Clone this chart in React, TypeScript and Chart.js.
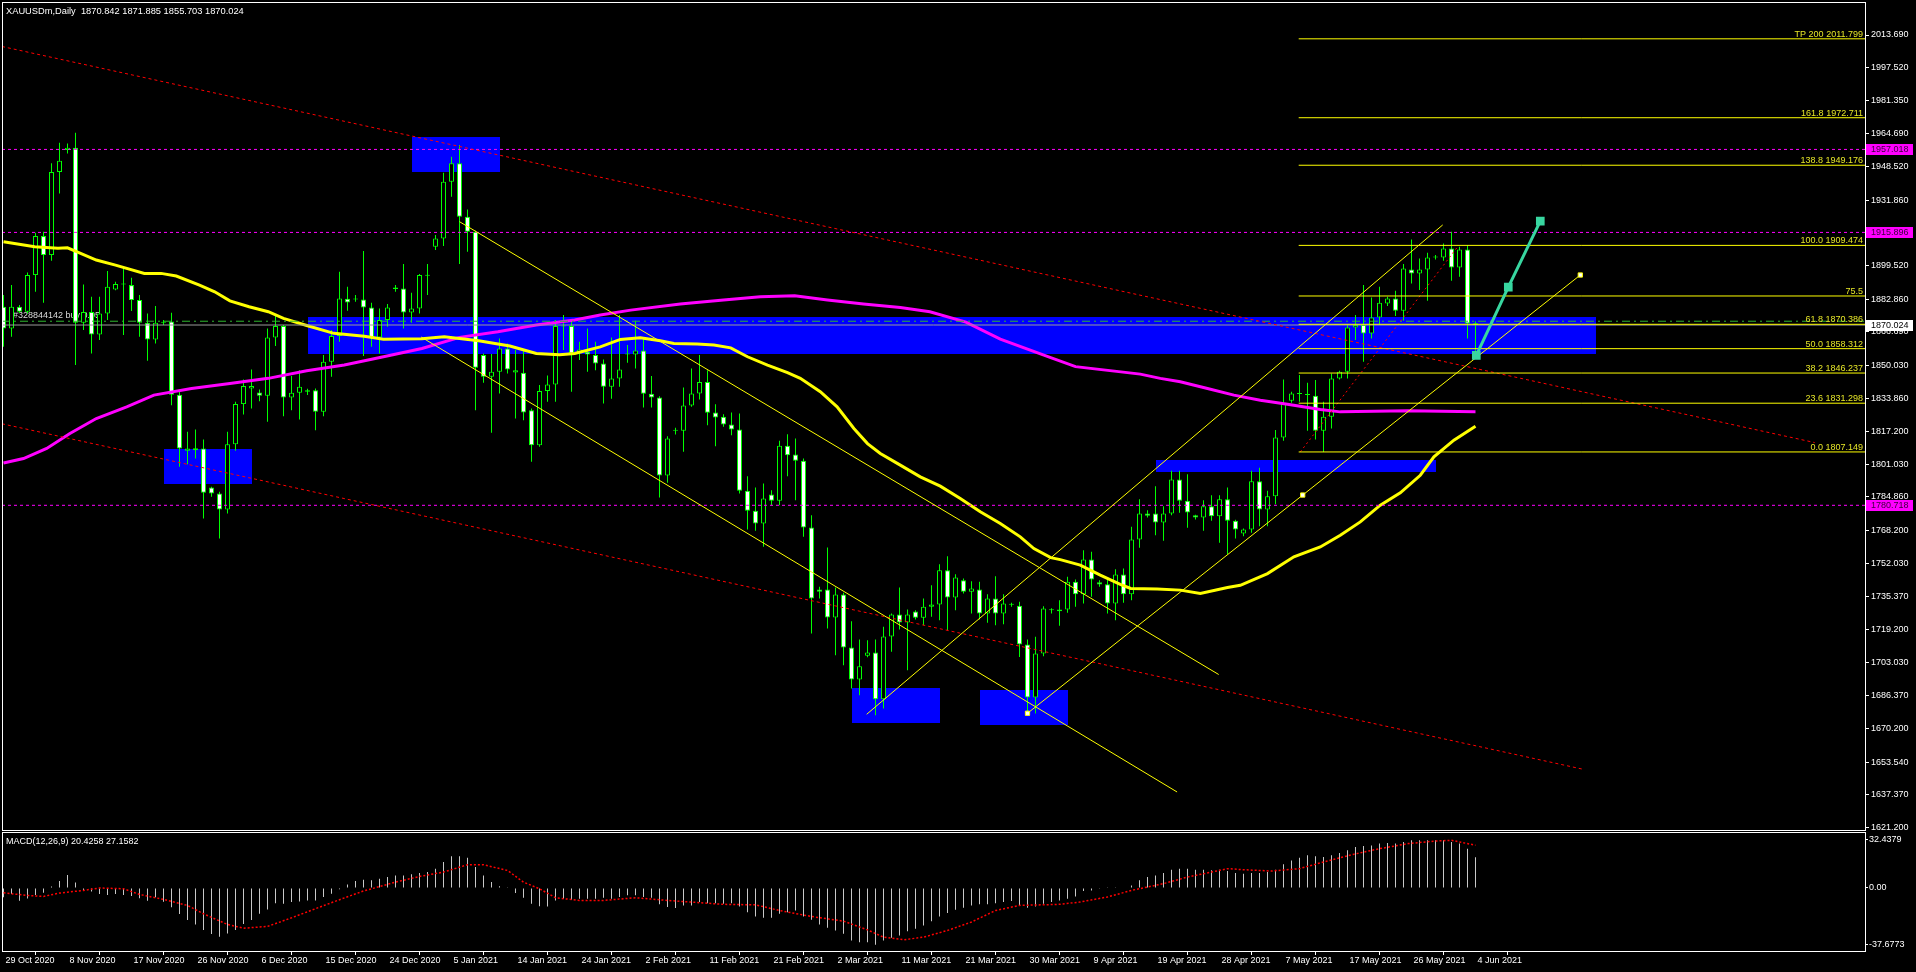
import React, { useEffect, useRef } from "react";
import { Chart, registerables } from "chart.js";

Chart.register(...registerables);

const FONT_FAMILY = '"Liberation Sans", Arial, sans-serif';

// ---------------- data ----------------
const titleText = "XAUUSDm,Daily  1870.842 1871.885 1855.703 1870.024";
const macdTitle = "MACD(12,26,9) 20.4258 27.1582";

const dateLabels = [
  "29 Oct 2020", "8 Nov 2020", "17 Nov 2020", "26 Nov 2020", "6 Dec 2020", "15 Dec 2020",
  "24 Dec 2020", "5 Jan 2021", "14 Jan 2021", "24 Jan 2021", "2 Feb 2021", "11 Feb 2021",
  "21 Feb 2021", "2 Mar 2021", "11 Mar 2021", "21 Mar 2021", "30 Mar 2021", "9 Apr 2021",
  "19 Apr 2021", "28 Apr 2021", "7 May 2021", "17 May 2021", "26 May 2021", "4 Jun 2021",
];
const dateTickIdx = [0, 8, 16, 24, 32, 40, 48, 56, 64, 72, 80, 88, 96, 104, 112, 120, 128, 136, 144, 152, 160, 168, 176, 184];

const opens = [
  1879.07, 1868.33, 1879.07, 1876.59, 1894.76, 1914.09, 1904.67, 1945.8, 1956.7, 1957.86,
  1871.14, 1876.43, 1865.36, 1875.76, 1887.66, 1890.14, 1889.8, 1882.37, 1871.14, 1862.88,
  1871.14, 1871.8, 1835.46, 1807.71, 1808.0, 1808.87, 1789.54, 1786.57, 1778.64, 1811.01,
  1830.84, 1838.6, 1836.62, 1834.97, 1863.87, 1869.49, 1834.14, 1836.45, 1836.95, 1837.77,
  1827.04, 1851.81, 1864.53, 1883.03, 1882.7, 1882.7, 1878.74, 1863.87, 1872.46, 1887.82,
  1888.15, 1876.26, 1878.24, 1894.43, 1908.8, 1912.93, 1941.01, 1950.1, 1923.67, 1916.23,
  1855.12, 1844.38, 1846.86, 1858.42, 1846.53, 1846.36, 1827.86, 1810.52, 1837.28, 1840.58,
  1869.3, 1869.49, 1855.94, 1856.77, 1855.12, 1850.99, 1839.42, 1843.55, 1855.45, 1855.45,
  1857.43, 1835.95, 1834.14, 1795.48, 1817.62, 1817.62, 1830.17, 1836.12, 1841.74, 1826.7,
  1824.56, 1820.76, 1818.28, 1787.89, 1777.98, 1771.7, 1786.07, 1782.93, 1810.19, 1805.89,
  1802.75, 1769.72, 1738.99, 1738.99, 1725.12, 1736.52, 1710.25, 1694.4, 1706.13, 1707.78,
  1684.65, 1715.71, 1726.61, 1722.64, 1728.09, 1724.96, 1730.41, 1731.56, 1748.58, 1735.03,
  1743.62, 1737.84, 1739.0, 1727.11, 1734.54, 1727.11, 1731.4, 1730.9, 1711.74, 1685.48,
  1707.28, 1728.76, 1728.26, 1729.09, 1742.8, 1736.68, 1753.86, 1742.63, 1741.64, 1732.06,
  1746.43, 1736.68, 1763.77, 1776.66, 1776.66, 1772.2, 1776.66, 1793.51, 1782.94, 1775.83,
  1774.68, 1780.29, 1775.34, 1783.76, 1773.03, 1766.75, 1768.73, 1792.68, 1778.64, 1785.25,
  1814.32, 1832.49, 1835.8, 1835.3, 1834.97, 1817.63, 1824.56, 1843.56, 1846.86, 1868.83,
  1869.99, 1865.86, 1873.79, 1880.7, 1883.2, 1877.09, 1897.57, 1895.59, 1897.57, 1903.52,
  1903.52, 1907.98, 1898.56, 1907.48, 1870.842,
];
const highs = [
  1884.85, 1889.81, 1880.0, 1896.08, 1915.74, 1916.23, 1950.1, 1960.34, 1960.0, 1965.29,
  1890.14, 1884.02, 1884.02, 1896.74, 1891.46, 1898.06, 1893.44, 1884.85, 1875.76, 1879.4,
  1872.46, 1876.09, 1837.77, 1817.13, 1818.28, 1813.33, 1789.87, 1787.4, 1817.13, 1831.99,
  1843.06, 1848.01, 1838.1, 1868.33, 1874.94, 1869.99, 1844.71, 1847.68, 1838.43, 1838.6,
  1855.12, 1867.51, 1896.41, 1888.98, 1884.85, 1906.65, 1881.05, 1878.24, 1880.39, 1889.81,
  1900.21, 1886.01, 1895.26, 1900.21, 1914.58, 1945.47, 1953.4, 1959.18, 1927.3, 1916.73,
  1855.94, 1855.61, 1863.38, 1860.9, 1857.59, 1857.59, 1828.69, 1840.25, 1845.04, 1872.46,
  1874.94, 1872.46, 1861.72, 1868.33, 1861.72, 1852.97, 1863.87, 1874.94, 1860.07, 1872.13,
  1863.37, 1844.71, 1834.8, 1814.98, 1819.11, 1839.09, 1848.51, 1855.12, 1847.68, 1830.83,
  1825.88, 1826.7, 1826.21, 1795.16, 1789.54, 1791.52, 1788.22, 1812.66, 1815.97, 1813.82,
  1803.91, 1775.83, 1740.31, 1759.81, 1739.98, 1737.34, 1723.3, 1714.22, 1713.89, 1714.22,
  1720.5, 1727.11, 1739.99, 1729.09, 1728.76, 1734.54, 1741.14, 1751.55, 1755.52, 1746.6,
  1744.45, 1743.13, 1742.8, 1736.68, 1745.6, 1736.68, 1732.39, 1732.89, 1714.22, 1715.54,
  1730.74, 1729.75, 1733.71, 1745.27, 1743.95, 1758.49, 1757.66, 1743.62, 1744.94, 1749.07,
  1749.4, 1770.05, 1783.76, 1778.31, 1790.21, 1780.29, 1797.8, 1797.8, 1796.15, 1776.0,
  1783.27, 1785.75, 1785.75, 1789.54, 1773.5, 1769.2, 1797.8, 1799.29, 1787.89, 1817.96,
  1843.06, 1836.95, 1845.21, 1841.41, 1842.73, 1831.99, 1846.04, 1847.36, 1869.99, 1874.94,
  1889.81, 1883.7, 1888.98, 1884.02, 1887.0, 1900.22, 1912.44, 1903.02, 1905.83, 1904.67,
  1910.46, 1916.24, 1908.8, 1909.47, 1871.885,
];
const lows = [
  1859.25, 1864.2, 1876.0, 1875.78, 1886.5, 1881.05, 1901.86, 1935.23, 1955.05, 1850.16,
  1867.51, 1855.94, 1862.55, 1872.46, 1887.3, 1865.03, 1876.92, 1864.2, 1852.31, 1860.9,
  1869.99, 1830.34, 1799.78, 1801.1, 1803.91, 1774.18, 1784.92, 1764.27, 1776.66, 1807.71,
  1825.71, 1828.69, 1832.32, 1822.08, 1859.58, 1824.89, 1827.86, 1823.24, 1835.3, 1817.95,
  1824.89, 1844.38, 1861.72, 1877.09, 1881.55, 1854.62, 1859.25, 1855.94, 1869.16, 1886.5,
  1868.33, 1871.14, 1875.76, 1884.85, 1907.15, 1909.13, 1933.58, 1900.21, 1906.32, 1827.86,
  1841.41, 1816.63, 1836.12, 1846.03, 1823.73, 1822.9, 1802.26, 1809.69, 1831.99, 1831.99,
  1857.59, 1836.95, 1852.64, 1846.86, 1847.68, 1831.16, 1833.48, 1839.42, 1851.32, 1848.51,
  1829.18, 1829.18, 1784.58, 1791.85, 1815.8, 1807.21, 1829.51, 1833.15, 1820.43, 1810.02,
  1819.6, 1815.47, 1786.57, 1768.73, 1768.07, 1760.14, 1780.78, 1780.78, 1795.16, 1783.26,
  1765.09, 1717.19, 1734.53, 1719.67, 1706.45, 1701.5, 1689.94, 1686.63, 1705.5, 1676.73,
  1680.03, 1708.11, 1719.18, 1699.02, 1724.13, 1721.32, 1725.45, 1723.8, 1718.84, 1728.76,
  1737.0, 1727.11, 1724.13, 1722.48, 1721.32, 1721.82, 1730.41, 1705.63, 1676.73, 1677.55,
  1705.96, 1727.11, 1720.99, 1727.44, 1730.41, 1732.06, 1735.36, 1740.31, 1727.11, 1723.8,
  1732.39, 1733.71, 1759.64, 1774.67, 1765.93, 1763.12, 1775.83, 1776.99, 1769.56, 1773.7,
  1768.07, 1773.03, 1762.12, 1756.51, 1764.27, 1765.4, 1767.08, 1770.38, 1770.38, 1781.29,
  1812.67, 1831.5, 1831.99, 1817.63, 1813.33, 1807.15, 1818.78, 1843.06, 1843.56, 1862.55,
  1851.82, 1863.38, 1870.48, 1879.4, 1874.45, 1872.13, 1890.63, 1887.33, 1882.05, 1902.53,
  1901.87, 1891.96, 1893.94, 1863.38, 1855.703,
];
const closes = [
  1868.33, 1879.07, 1876.59, 1894.76, 1914.09, 1904.67, 1945.8, 1951.42, 1957.86, 1871.14,
  1876.43, 1865.36, 1875.76, 1888.98, 1890.3, 1890.14, 1882.37, 1871.14, 1862.88, 1871.14,
  1871.6, 1835.46, 1808.87, 1808.87, 1809.0, 1786.9, 1786.57, 1778.64, 1811.01, 1830.84,
  1839.76, 1839.76, 1834.97, 1863.87, 1869.49, 1834.14, 1836.45, 1839.43, 1837.77, 1827.04,
  1851.81, 1864.53, 1883.2, 1881.22, 1882.7, 1878.74, 1863.87, 1872.46, 1878.74, 1888.65,
  1876.26, 1878.24, 1894.76, 1894.43, 1912.93, 1941.01, 1950.1, 1923.67, 1916.23, 1848.84,
  1844.38, 1846.86, 1858.42, 1848.01, 1847.68, 1826.71, 1810.52, 1837.28, 1840.58, 1869.49,
  1869.6, 1855.94, 1857.93, 1855.45, 1850.99, 1839.42, 1843.55, 1848.01, 1855.45, 1857.43,
  1835.95, 1834.14, 1795.48, 1813.82, 1817.62, 1830.17, 1836.12, 1841.74, 1826.54, 1824.23,
  1820.76, 1818.28, 1787.89, 1777.98, 1771.7, 1784.09, 1782.93, 1810.19, 1805.56, 1802.75,
  1769.72, 1734.53, 1737.84, 1725.12, 1736.52, 1710.25, 1694.4, 1701.0, 1707.78, 1684.65,
  1715.71, 1726.61, 1722.64, 1726.61, 1724.96, 1730.41, 1731.56, 1748.58, 1735.03, 1744.94,
  1737.84, 1739.49, 1727.11, 1734.54, 1727.11, 1732.06, 1731.4, 1711.74, 1685.48, 1707.28,
  1729.58, 1728.76, 1729.09, 1742.8, 1736.68, 1753.86, 1743.95, 1741.47, 1732.06, 1746.43,
  1736.68, 1763.77, 1776.66, 1775.5, 1772.2, 1776.66, 1793.51, 1782.94, 1777.16, 1774.68,
  1780.29, 1775.34, 1783.76, 1773.03, 1768.73, 1768.73, 1792.68, 1778.64, 1785.25, 1814.32,
  1830.84, 1836.13, 1835.8, 1835.3, 1817.63, 1824.56, 1843.56, 1846.86, 1868.83, 1869.99,
  1865.86, 1873.79, 1881.05, 1883.2, 1877.09, 1898.07, 1895.59, 1897.57, 1903.52, 1903.52,
  1907.98, 1898.56, 1907.48, 1870.81, 1870.024,
];

const priceTicks = [
  2013.69, 1997.52, 1981.35, 1964.69, 1948.52, 1931.86, 1915.69, 1899.52, 1882.86, 1866.69,
  1850.03, 1833.86, 1817.2, 1801.03, 1784.86, 1768.2, 1752.03, 1735.37, 1719.2, 1703.03,
  1686.37, 1670.2, 1653.54, 1637.37, 1621.2,
];
const priceAxisMin = 1619.87;
const priceAxisMax = 2030.04;
const barAxisMin = -0.1875;
const barAxisMax = 232.6875;

// moving averages (bar index, price)
const yellowMa = [
  [0, 1911.3], [3.9, 1908.8], [6.8, 1908.0], [8, 1908.3], [9.2, 1906.3], [11.6, 1902.2], [14, 1899.7],
  [17.6, 1895.6], [19.7, 1895.6], [21.6, 1894.3], [24.5, 1889.8], [26.4, 1886.5], [28.3, 1882.0],
  [30.7, 1879.1], [33.1, 1876.6], [35, 1873.3], [37.9, 1869.8], [41.3, 1865.9], [45.1, 1864.5],
  [47.5, 1863.0], [52.3, 1863.2], [55.1, 1864.2], [59.4, 1862.2], [63.3, 1859.6], [66.6, 1855.9],
  [69.5, 1855.3], [71.4, 1855.9], [74.6, 1859.2], [77.1, 1862.9], [79.6, 1863.7], [82.1, 1862.2],
  [83.8, 1860.9], [86.7, 1860.6], [88.8, 1860.1], [90.9, 1858.7], [93, 1854.3], [95.5, 1850.2],
  [98, 1846.4], [99.6, 1843.6], [102.1, 1837.0], [104.2, 1829.5], [106.3, 1818.8], [108, 1811.3],
  [109.6, 1806.4], [112.1, 1800.6], [114.6, 1794.8], [117.1, 1790.2], [119.6, 1784.1], [122.1, 1777.5],
  [124.6, 1771.7], [127.1, 1765.1], [128.8, 1759.3], [130.9, 1754.8], [132.1, 1753.8], [134.6, 1751.1],
  [137.1, 1746.1], [139.6, 1741.6], [140.9, 1739.5], [144.2, 1739.2], [147.1, 1738.7], [149.6, 1737.0],
  [153, 1740.0], [154.6, 1741.1], [158, 1746.9], [161.3, 1755.2], [164.6, 1760.1], [167.1, 1765.9],
  [169.6, 1772.5], [172.1, 1780.8], [174.6, 1786.9], [177.1, 1795.6], [178.8, 1804.7], [181.3, 1813.0],
  [184, 1819.9],
];
const magentaMa = [
  [0, 1801.7], [2.5, 1803.9], [5.4, 1808.9], [8.3, 1816.3], [11.6, 1823.7], [15.4, 1829.5], [18.8, 1835.3],
  [23.5, 1838.6], [28.3, 1841.1], [33.1, 1843.6], [37.9, 1847.4], [42.6, 1850.2], [47.5, 1854.3],
  [52.3, 1858.4], [57, 1863.9], [61.8, 1866.7], [66.6, 1870.0], [71.4, 1872.5], [74.6, 1875.0],
  [78.4, 1877.4], [84.6, 1880.4], [90, 1882.4], [94.6, 1884.0], [98.9, 1884.5], [103, 1882.4],
  [107.5, 1880.4], [112.1, 1878.7], [115.8, 1876.6], [120.3, 1871.5], [124.6, 1863.0], [130.9, 1853.9],
  [134, 1849.4], [142.1, 1845.7], [144.6, 1843.6], [147.1, 1841.9], [150.5, 1838.6], [153.8, 1835.3],
  [157.1, 1832.8], [160.5, 1830.8], [164.6, 1828.2], [167.1, 1827.0], [175.5, 1827.5], [184, 1827.0],
];

// supply / demand zones
const zoneStartIdx = [51, 20, 38, 106, 122, 144];
const zoneEndIdx = [62, 31, 199, 117, 133, 179];
const zoneTop = [1963.2, 1808.5, 1873.9, 1690.1, 1689.1, 1803.1];
const zoneBottom = [1945.8, 1791.3, 1855.8, 1672.9, 1671.9, 1797.3];

// horizontal levels
const magentaLevels = [1957.018, 1915.896, 1780.718];
const magentaLevelLabels = ["1957.018", "1915.896", "1780.718"];
const bidPrice = 1870.024;
const bidLabel = "1870.024";
const orderPrice = 1871.9;
const orderLabel = "#328844142 buy 0.05";

// fibonacci
const fibLevels = [1807.149, 1831.298, 1846.237, 1858.312, 1870.386, 1884.404, 1909.474, 1949.176, 1972.711, 2011.799];
const fibLabels = ["0.0 1807.149", "23.6 1831.298", "38.2 1846.237", "50.0 1858.312", "61.8 1870.386", "75.5", "100.0 1909.474", "138.8 1949.176", "161.8 1972.711", "TP 200 2011.799"];
const fibStartIdx = 161.9;
const fibBaseLine = [[162.1, 1807.149], [181.9, 1909.474]];

// trend lines (bar index, price)
const redUpperLine = [[-0.19, 2008.0], [226.4, 1811.8]];
const redLowerLine = [[-0.19, 1821.1], [197.4, 1650.0]];
const yellowDownUpper = [[57, 1921.2], [151.9, 1696.9]];
const yellowDownLower = [[52.2, 1864.1], [146.7, 1638.7]];
const yellowUpUpper = [[107.9, 1677.2], [179.9, 1919.6]];
const yellowUpLower = [[128.0, 1677.7], [197.1, 1894.8]];
const anchorPoints = [[128.0, 1677.7], [162.4, 1785.8], [197.1, 1894.8]];
const projectionPath = [[184.1, 1855.0], [188.1, 1888.8], [192.1, 1921.5]];

// MACD
const macdHist = [
  -6.2, -4.0, -8.5, -7.0, -4.7, -3.1, 1.0, 4.7, 8.7, 3.6,
  -1.3, -2.4, -4.0, -4.7, -4.0, -4.7, -5.3, -6.9, -8.5, -6.2,
  -9.1, -12.9, -17.4, -21.4, -24.3, -28.0, -30.7, -32.5, -30.3, -28.0,
  -24.0, -21.4, -17.2, -14.3, -10.1, -10.5, -9.4, -9.0, -8.3, -8.3,
  -6.0, -3.8, -0.9, 2.4, 4.6, 5.5, 5.1, 6.2, 7.3, 8.4,
  8.4, 9.1, 10.0, 10.6, 12.9, 17.3, 21.1, 21.1, 20.2, 14.0,
  8.4, 4.0, 1.1, 0.2, -3.4, -6.5, -10.5, -12.1, -12.3, -8.3,
  -7.2, -7.8, -7.2, -7.2, -7.2, -6.5, -7.2, -6.0, -4.9, -4.9,
  -6.0, -6.5, -10.9, -12.7, -13.4, -11.6, -11.6, -9.4, -10.1, -10.1,
  -10.5, -10.1, -12.3, -16.1, -19.0, -19.9, -19.9, -17.2, -16.1, -15.0,
  -19.0, -21.2, -24.3, -26.5, -28.3, -30.5, -35.0, -36.1, -36.1, -37.9,
  -35.0, -33.2, -31.6, -28.8, -27.2, -25.0, -22.1, -19.0, -16.7, -14.5,
  -13.2, -11.6, -10.9, -10.9, -10.1, -9.4, -8.7, -11.6, -13.2, -12.3,
  -10.5, -9.4, -8.3, -7.2, -5.6, -2.0, -1.6, -0.5, 0.2, 0.2,
  -0.3, 1.7, 5.1, 7.3, 8.4, 10.0, 12.2, 12.9, 12.9, 12.2,
  12.2, 11.8, 12.2, 11.3, 10.0, 9.5, 10.0, 10.0, 10.6, 12.2,
  15.8, 18.4, 20.2, 21.8, 21.1, 20.7, 21.8, 23.3, 25.1, 27.3,
  28.0, 28.4, 29.6, 30.0, 29.6, 30.7, 31.8, 31.8, 31.8, 31.8,
  31.8, 30.7, 29.6, 26.2, 20.43,
];
const macdSignal = [
  [0, -3.2], [3, -5.0], [5, -5.6], [7, -3.4], [10, -1.6], [12, 0], [15, -0.5], [17, -4.3], [20, -7.6],
  [23, -11.6], [25, -17.2], [28, -24.3], [30, -26.8], [33, -25.6], [36, -19.9], [39, -13.8], [42, -7.8],
  [45, -2.0], [49, 3.9], [52, 7.7], [55, 10.6], [58, 15.5], [60, 15.5], [63, 11.7], [65, 3.9], [67, -0.5],
  [69, -6.5], [72, -8.3], [75, -8.3], [79, -6.5], [83, -8.3], [86, -9.4], [90, -10.9], [94, -11.2],
  [97, -15.0], [101, -19.0], [105, -22.1], [108, -27.9], [110, -32.8], [112.5, -34.5], [115, -32.8],
  [118, -28.3], [121, -22.7], [124, -15.0], [127, -11.6], [132, -10.9], [134.5, -9.4], [138, -6.0],
  [141, -1.6], [145, 2.9], [148, 7.3], [151, 10.6], [153, 12.9], [155, 12.2], [158.5, 11.3], [162, 12.9],
  [165, 17.3], [168.7, 22.4], [172, 26.2], [175.6, 29.6], [179, 31.3], [181, 31.8], [184, 28.5],
];
const macdTicks = [32.4379, 0, -37.6773];
const macdTickLabels = ["32.4379", "0.00", "-37.6773"];
const macdAxisMin = -42.0;
const macdAxisMax = 37.33;

// ---------------- styling ----------------
const GREEN = "#00FF00";
const YELLOW = "#FFFF00";
const MAGENTA = "#FF00FF";
const RED = "#FF0000";
const PROJ = "rgb(56, 214, 160)";
const FONT = { family: FONT_FAMILY, size: 9 };

const pts = (pairs: number[][]) => pairs.map(([x, y]) => ({ x, y }));
const hline = (p: number) => [{ x: barAxisMin, y: p }, { x: barAxisMax, y: p }];
const seg = (data: any[], color: string, width: number, dash: number[], order: number) => ({
  type: "line",
  data,
  borderColor: color,
  borderWidth: width,
  borderDash: dash,
  pointRadius: 0,
  fill: false,
  tension: 0,
  order,
});
const zeroPad = (ax: any) => {
  ax.paddingTop = 0;
  ax.paddingBottom = 0;
  ax.paddingLeft = 0;
  ax.paddingRight = 0;
};

const mainDecor = {
  id: "mainDecor",
  beforeDatasetsDraw(chart: any) {
    const { ctx, chartArea: ca } = chart;
    const x = chart.scales.x;
    const y = chart.scales.y;
    ctx.save();
    ctx.beginPath();
    ctx.rect(ca.left, ca.top, ca.right - ca.left, ca.bottom - ca.top);
    ctx.clip();
    ctx.fillStyle = "#0000FF";
    zoneStartIdx.forEach((s, k) => {
      const x1 = Math.round(x.getPixelForValue(s));
      const x2 = Math.round(x.getPixelForValue(zoneEndIdx[k]));
      const y1 = Math.round(y.getPixelForValue(zoneTop[k]));
      const y2 = Math.round(y.getPixelForValue(zoneBottom[k]));
      ctx.fillRect(x1, y1, x2 - x1, y2 - y1);
    });
    ctx.font = `9px ${FONT_FAMILY}`;
    ctx.fillStyle = "#DADADA";
    ctx.textAlign = "left";
    ctx.textBaseline = "middle";
    ctx.fillText(orderLabel, ca.left + 11, y.getPixelForValue(orderPrice) - 6);
    ctx.restore();
  },
  afterDatasetsDraw(chart: any) {
    const { ctx, chartArea: ca } = chart;
    const y = chart.scales.y;
    ctx.save();
    ctx.font = `9px ${FONT_FAMILY}`;
    ctx.fillStyle = "#E6E628";
    ctx.textAlign = "right";
    ctx.textBaseline = "alphabetic";
    fibLevels.forEach((lv, k) => {
      ctx.fillText(fibLabels[k], ca.right - 2, y.getPixelForValue(lv) - 2);
    });
    ctx.font = `9.3px ${FONT_FAMILY}`;
    ctx.fillStyle = "#FFFFFF";
    ctx.textAlign = "left";
    ctx.textBaseline = "middle";
    ctx.fillText(titleText, 6, 11);
    ctx.restore();
  },
  afterDraw(chart: any) {
    const { ctx, chartArea: ca } = chart;
    const y = chart.scales.y;
    ctx.save();
    ctx.font = `9px ${FONT_FAMILY}`;
    ctx.textAlign = "left";
    ctx.textBaseline = "middle";
    const tag = (p: number, label: string, bg: string, fg: string) => {
      const py = Math.round(y.getPixelForValue(p));
      ctx.fillStyle = bg;
      ctx.fillRect(ca.right + 1, py - 5, 47, 11);
      ctx.fillStyle = fg;
      ctx.fillText(label, ca.right + 6, py + 0.5);
    };
    magentaLevels.forEach((p, k) => tag(p, magentaLevelLabels[k], MAGENTA, "#3a003a"));
    tag(bidPrice, bidLabel, "#FFFFFF", "#000000");
    ctx.strokeStyle = "#FFFFFF";
    ctx.lineWidth = 1;
    ctx.strokeRect(ca.left + 0.5, ca.top + 0.5, ca.right - ca.left, ca.bottom - ca.top);
    ctx.restore();
  },
};

const macdDecor = {
  id: "macdDecor",
  afterDraw(chart: any) {
    const { ctx, chartArea: ca } = chart;
    ctx.save();
    ctx.strokeStyle = "#FFFFFF";
    ctx.lineWidth = 1;
    ctx.strokeRect(ca.left + 0.5, ca.top + 0.5, ca.right - ca.left, ca.bottom - ca.top);
    ctx.font = `9px ${FONT_FAMILY}`;
    ctx.fillStyle = "#FFFFFF";
    ctx.textAlign = "left";
    ctx.textBaseline = "middle";
    ctx.fillText(macdTitle, 6, 11);
    ctx.restore();
  },
};

function mainConfig(): any {
  const wicks = lows.map((l, i) => ({ x: i, y: [l, highs[i]] }));
  const bodies = opens.map((o, i) => ({ x: i, y: [Math.min(o, closes[i]), Math.max(o, closes[i])] }));
  const bodyColors = opens.map((o, i) => (closes[i] >= o ? "#000000" : "#FFFFFF"));
  const fibSets = fibLevels.map((lv) =>
    seg([{ x: fibStartIdx, y: lv }, { x: barAxisMax, y: lv }], YELLOW, 1, [], 1)
  );
  return {
    type: "line",
    data: {
      datasets: [
        {
          type: "line",
          data: pts(projectionPath),
          borderColor: PROJ,
          borderWidth: 3,
          pointStyle: "rect",
          pointRadius: 4,
          pointBackgroundColor: PROJ,
          pointBorderColor: PROJ,
          tension: 0,
          order: 0,
        },
        {
          type: "line",
          data: pts(anchorPoints),
          showLine: false,
          pointStyle: "rect",
          pointRadius: 3,
          pointBackgroundColor: "#FFFFFF",
          pointBorderColor: YELLOW,
          pointBorderWidth: 1,
          order: 0,
        },
        seg(pts(yellowDownUpper), YELLOW, 1, [], 1),
        seg(pts(yellowDownLower), YELLOW, 1, [], 1),
        seg(pts(yellowUpUpper), YELLOW, 1, [], 1),
        seg(pts(yellowUpLower), YELLOW, 1, [], 1),
        ...fibSets,
        seg(pts(fibBaseLine), RED, 1, [2, 3], 1),
        seg(pts(redUpperLine), RED, 1, [3, 3], 1),
        seg(pts(redLowerLine), RED, 1, [3, 3], 1),
        ...magentaLevels.map((p) => seg(hline(p), MAGENTA, 1, [3, 3], 2)),
        seg(hline(orderPrice), "#2FB82F", 1, [8, 4, 2, 4], 2),
        seg(hline(bidPrice), "#9A9A9A", 1, [], 2),
        seg(pts(yellowMa), YELLOW, 3, [], 3),
        seg(pts(magentaMa), MAGENTA, 3, [], 3),
        {
          type: "bar",
          data: bodies,
          backgroundColor: bodyColors,
          borderColor: GREEN,
          borderWidth: 1,
          borderSkipped: false,
          barThickness: 5,
          minBarLength: 1,
          grouped: false,
          inflateAmount: 0,
          order: 4,
        },
        {
          type: "bar",
          data: wicks,
          backgroundColor: GREEN,
          borderWidth: 0,
          barThickness: 1,
          minBarLength: 1,
          grouped: false,
          inflateAmount: 0,
          order: 5,
        },
      ],
    },
    options: {
      responsive: false,
      animation: false,
      devicePixelRatio: 1,
      events: [],
      layout: { autoPadding: false, padding: { left: 2, top: 2, right: 0, bottom: 1 } },
      plugins: { legend: { display: false }, tooltip: { enabled: false } },
      scales: {
        x: {
          type: "linear",
          min: barAxisMin,
          max: barAxisMax,
          display: false,
          offset: false,
          afterFit: zeroPad,
        },
        y: {
          type: "linear",
          position: "right",
          min: priceAxisMin,
          max: priceAxisMax,
          afterBuildTicks: (ax: any) => {
            ax.ticks = priceTicks.map((v) => ({ value: v }));
          },
          afterFit: (ax: any) => {
            ax.width = 51;
            zeroPad(ax);
          },
          ticks: {
            color: "#FFFFFF",
            font: FONT,
            padding: 2,
            autoSkip: false,
            callback: (v: any) => Number(v).toFixed(3),
          },
          grid: { drawOnChartArea: false, drawTicks: true, tickLength: 4, color: "#FFFFFF" },
          border: { display: true, color: "#FFFFFF" },
        },
      },
    },
    plugins: [mainDecor],
  };
}

function macdConfig(): any {
  return {
    type: "line",
    data: {
      datasets: [
        seg(pts(macdSignal), RED, 1.5, [2, 2], 0),
        {
          type: "bar",
          data: macdHist.map((v, i) => ({ x: i, y: v })),
          backgroundColor: "#C8C8C8",
          borderWidth: 0,
          barThickness: 1,
          grouped: false,
          inflateAmount: 0,
          order: 1,
        },
      ],
    },
    options: {
      responsive: false,
      animation: false,
      devicePixelRatio: 1,
      events: [],
      layout: { autoPadding: false, padding: { left: 2, top: 1, right: 0, bottom: 0 } },
      plugins: { legend: { display: false }, tooltip: { enabled: false } },
      scales: {
        x: {
          type: "linear",
          position: "bottom",
          min: barAxisMin,
          max: barAxisMax,
          offset: false,
          afterBuildTicks: (ax: any) => {
            ax.ticks = dateTickIdx.map((v) => ({ value: v }));
          },
          afterFit: (ax: any) => {
            ax.height = 21;
            zeroPad(ax);
          },
          ticks: {
            color: "#FFFFFF",
            font: FONT,
            align: "start",
            padding: 0,
            labelOffset: 2,
            maxRotation: 0,
            minRotation: 0,
            autoSkip: false,
            callback: (_v: any, i: number) => dateLabels[i],
          },
          grid: { drawOnChartArea: false, drawTicks: true, tickLength: 4, color: "#FFFFFF" },
          border: { display: true, color: "#FFFFFF" },
        },
        y: {
          type: "linear",
          position: "right",
          min: macdAxisMin,
          max: macdAxisMax,
          afterBuildTicks: (ax: any) => {
            ax.ticks = macdTicks.map((v) => ({ value: v }));
          },
          afterFit: (ax: any) => {
            ax.width = 51;
            zeroPad(ax);
          },
          ticks: {
            color: "#FFFFFF",
            font: FONT,
            padding: 1,
            autoSkip: false,
            callback: (_v: any, i: number) => macdTickLabels[i],
          },
          grid: { drawOnChartArea: false, drawTicks: true, tickLength: 3, color: "#FFFFFF" },
          border: { display: true, color: "#FFFFFF" },
        },
      },
    },
    plugins: [macdDecor],
  };
}

export default function App() {
  const mainRef = useRef<HTMLCanvasElement>(null);
  const macdRef = useRef<HTMLCanvasElement>(null);

  useEffect(() => {
    document.body.style.margin = "0";
    document.body.style.background = "#000000";
    const main = new Chart(mainRef.current as HTMLCanvasElement, mainConfig());
    const macd = new Chart(macdRef.current as HTMLCanvasElement, macdConfig());
    return () => {
      main.destroy();
      macd.destroy();
    };
  }, []);

  return (
    <div style={{ position: "fixed", left: 0, top: 0, width: 1916, height: 972, background: "#000000", overflow: "hidden" }}>
      <canvas
        ref={mainRef}
        width={1916}
        height={831}
        style={{ position: "absolute", left: 0, top: 0, width: 1916, height: 831 }}
      />
      <canvas
        ref={macdRef}
        width={1916}
        height={141}
        style={{ position: "absolute", left: 0, top: 831, width: 1916, height: 141 }}
      />
    </div>
  );
}
